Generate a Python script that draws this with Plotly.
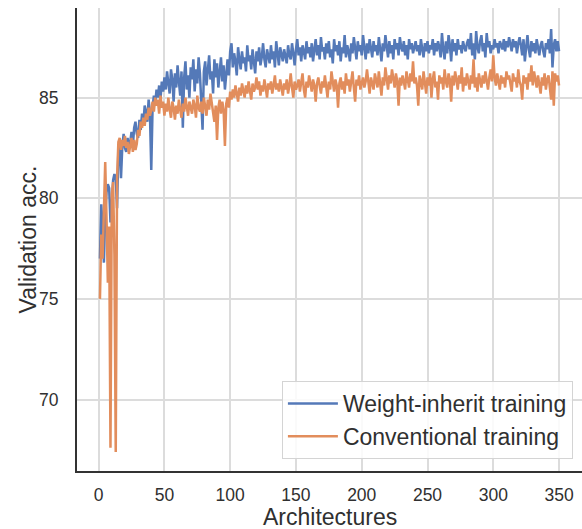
import plotly.graph_objects as go

weight_inherit = [
    77.0, 79.7, 78.5, 76.8, 79.2, 80.3, 80.7, 80.5, 78.8, 79.6,
    80.9, 81.2, 81.0, 79.5, 82.4, 82.8, 81.0, 82.6, 83.2, 82.5,
    82.3, 83.0, 82.5, 82.8, 83.3, 82.6, 83.5, 83.8, 83.2, 83.0,
    83.9, 83.4, 84.2, 83.7, 84.6, 84.3, 83.8, 84.9, 84.2, 81.4,
    84.5, 85.1, 84.7, 85.4, 85.0, 85.6, 84.9, 85.8, 85.3, 86.0,
    85.4, 86.3, 85.7, 85.2, 86.4, 85.9, 84.8, 86.2, 85.5, 86.6,
    85.8, 85.1, 86.3, 83.5, 86.0, 86.8, 85.4, 86.1, 85.0, 86.5,
    85.9, 86.9, 85.3, 86.4, 85.7, 87.0, 86.2, 85.1, 83.4, 86.3,
    86.8, 85.6, 86.5, 87.1, 85.9, 86.3, 85.2, 86.9, 86.0, 86.7,
    85.5, 86.4, 87.0, 85.8, 86.6, 85.4, 86.2, 86.9, 86.1, 87.3,
    87.7, 86.5, 87.2, 86.8, 86.1, 87.5, 86.9, 86.4, 87.3, 86.7,
    87.0, 86.3, 87.6, 86.8, 87.1, 86.4, 87.4, 86.9, 86.2, 87.3,
    86.8, 87.5, 86.6, 87.0, 87.7, 86.9, 86.5, 87.4, 87.1, 86.7,
    87.6, 86.9, 87.3, 86.5, 87.8, 87.0, 86.6, 87.5, 87.2, 86.8,
    87.4, 87.0, 86.7, 87.6, 87.1, 86.9, 87.7, 87.2, 86.6, 87.4,
    87.9, 87.1, 87.5, 86.8, 87.6, 87.3, 86.9, 87.8, 87.2, 87.5,
    87.0, 87.7, 86.8, 87.4, 87.9, 87.1, 87.6, 86.9, 88.0, 87.3,
    87.5, 86.9, 87.7, 87.2, 87.8, 87.0, 87.4, 86.7, 87.9, 87.3,
    87.6, 87.1, 87.8, 86.8, 87.5, 87.2, 88.1, 87.0, 87.6, 87.3,
    86.8, 87.7, 87.2, 88.0, 87.4, 86.9, 87.8, 87.3, 87.6, 87.1,
    88.1, 87.4, 86.9, 87.7, 87.2, 87.9, 87.5, 87.0, 87.8, 87.3,
    87.6, 87.1, 88.0, 87.4, 86.8, 87.7, 87.3, 88.1, 87.5, 87.0,
    87.8, 87.2, 87.6, 86.9, 87.9, 87.4, 87.7, 87.1, 88.0, 87.5,
    87.3, 87.8, 87.1, 87.6, 86.9, 87.9, 87.4, 87.7, 87.2, 87.5,
    87.8, 87.3, 87.6, 87.1, 87.9, 87.4, 87.0, 87.7, 87.3, 87.8,
    87.2, 87.6, 87.4, 87.9, 87.1, 87.7, 87.3, 87.8, 87.5, 87.0,
    88.2, 87.4, 86.9, 87.8, 87.2, 88.1, 87.6, 86.8, 87.9, 87.3,
    87.7, 87.1, 87.9, 87.4, 87.6, 87.2, 87.8, 87.5, 87.3, 87.7,
    87.9, 87.4, 88.2, 87.1, 87.7, 86.9, 88.3, 87.5, 87.2, 87.8,
    88.1, 87.3, 87.7, 87.0, 88.2, 87.5, 87.8, 87.2, 87.6, 87.4,
    87.9, 87.5, 87.7, 87.2, 87.8, 87.6, 87.4, 87.9, 87.3, 87.8,
    87.5, 88.0, 87.6, 87.3, 87.9, 87.5, 87.8, 87.2, 87.7, 88.0,
    87.6, 87.1, 87.9, 86.8, 87.5, 88.1, 87.4, 87.0, 87.8, 87.3,
    87.7, 87.2, 87.9, 87.4, 87.1, 87.6, 87.8, 87.3, 87.0, 87.7,
    87.4, 87.9, 87.2, 88.4, 86.5, 87.6, 87.9, 87.3, 87.8, 87.3,
]

conventional = [
    75.0, 78.2, 77.0, 79.3, 81.8, 79.0, 75.8, 78.6, 67.6, 80.2,
    80.8, 77.2, 67.4, 81.0, 82.8, 83.0, 82.4, 82.9, 82.6, 83.1,
    82.5, 82.8, 82.2, 82.6, 83.0, 82.3, 82.9, 82.4, 82.7, 83.4,
    83.1, 83.8, 83.5, 84.0, 83.6, 84.2, 83.9, 84.5, 84.1, 84.4,
    84.8, 84.3, 85.0, 84.6, 84.9, 84.2, 85.1, 84.5, 84.8, 84.1,
    84.7, 84.3, 85.0, 84.4, 84.0, 84.8, 84.5, 83.9, 84.6, 84.2,
    84.9, 84.4, 84.0, 84.7, 84.3, 85.0, 84.5, 84.1, 84.8, 84.4,
    84.2, 84.9, 84.6, 84.0, 85.1, 84.5, 84.3, 84.8, 84.2, 85.0,
    84.6, 84.1, 84.9, 84.4, 85.2, 84.7, 84.3, 83.8, 84.6, 82.9,
    84.5, 84.9, 84.2, 84.8, 84.4, 82.6, 84.7, 85.0, 84.5, 85.3,
    84.9, 85.4, 85.0, 85.6, 85.2, 84.8, 85.5, 85.1, 85.7, 85.3,
    85.0, 85.6, 85.2, 85.8, 85.4, 84.9, 85.7, 85.3, 85.5, 86.0,
    85.4, 85.8, 85.1, 85.6, 85.3, 85.9, 85.5, 85.0, 85.7, 85.4,
    85.8, 85.2, 85.6, 86.1, 85.4, 85.7, 85.3, 85.9, 85.5, 85.1,
    85.7, 85.4, 85.9, 85.2, 85.6, 86.2, 85.5, 85.0, 85.8, 85.4,
    85.6, 85.9, 85.3, 85.7, 86.2, 85.4, 85.0, 85.8, 85.5, 86.1,
    85.7, 85.3, 85.9, 85.6, 84.8, 85.7, 86.0, 85.5, 85.2, 85.8,
    85.5, 86.1, 85.6, 85.0, 85.8, 85.4, 86.3, 85.7, 85.3, 85.9,
    85.6, 84.5, 85.7, 86.0, 85.4, 85.8, 85.2, 86.2, 85.6, 85.9,
    85.3, 85.8, 86.3, 85.5, 84.8, 85.9, 85.6, 86.1, 85.4, 85.7,
    86.0, 85.5, 85.8, 86.4, 85.6, 85.2, 86.0, 85.7, 85.4, 86.2,
    85.9, 85.5, 86.3, 85.7, 85.1, 86.0, 85.6, 86.5, 85.8, 85.4,
    86.1, 85.7, 86.4, 85.9, 85.5, 86.2, 85.8, 84.6, 86.0, 85.6,
    86.1, 85.8, 85.4, 86.3, 85.9, 85.5, 86.2, 85.8, 86.8, 85.7,
    86.0, 85.6, 84.6, 86.1, 85.8, 85.4, 86.3, 85.7, 85.2, 86.0,
    85.6, 86.2, 85.0, 85.9, 86.3, 85.5, 85.8, 84.9, 86.1, 85.7,
    86.0, 85.4, 86.4, 85.8, 85.5, 86.2, 85.9, 84.8, 86.1, 85.6,
    86.3, 85.9, 85.4, 86.1, 85.7, 86.5, 85.3, 86.0, 85.6, 86.2,
    85.8, 85.4, 86.1, 85.7, 86.9, 85.5, 86.0, 85.3, 86.2, 85.8,
    85.5, 86.1, 85.7, 86.3, 85.9, 85.4, 86.0, 86.4, 85.8, 87.1,
    86.0, 85.6, 86.2, 85.8, 85.4, 86.1, 85.7, 86.0, 85.5, 86.3,
    85.9, 86.1, 85.6, 85.3, 86.2, 85.8, 86.0, 85.5, 86.4, 85.8,
    85.6, 84.9, 86.1, 85.7, 86.0, 85.4, 86.2, 85.8, 86.6, 85.6,
    86.3, 85.9, 85.5, 86.1, 85.7, 85.2, 86.0, 85.6, 86.2, 85.4,
    85.9, 86.1, 85.5, 84.9, 86.3, 84.6, 86.2, 85.8, 86.1, 85.6,
]

architectures = list(range(1, len(weight_inherit) + 1))
series_names = ["Weight-inherit training", "Conventional training"]
x_ticks = [0, 50, 100, 150, 200, 250, 300, 350]
y_ticks = [70, 75, 80, 85]
x_title = "Architectures"
y_title = "Validation acc."

FONT = "Liberation Sans, Arial, sans-serif"
TXT = "#303030"

fig = go.Figure()
fig.add_trace(go.Scatter(x=architectures, y=weight_inherit, mode="lines",
                         name=series_names[0],
                         line=dict(color="#5479b8", width=2.5)))
fig.add_trace(go.Scatter(x=architectures, y=conventional, mode="lines",
                         name=series_names[1],
                         line=dict(color="#e28d5c", width=2.5)))

fig.update_layout(
    width=582, height=529,
    margin=dict(l=77, r=0, t=8, b=58),
    paper_bgcolor="white", plot_bgcolor="white",
    font=dict(family=FONT, color=TXT, size=17),
    showlegend=True,
    legend=dict(
        x=0.982, y=0.026, xanchor="right", yanchor="bottom",
        bgcolor="rgba(255,255,255,0.85)", bordercolor="#d4d4d4", borderwidth=1,
        font=dict(family=FONT, size=23, color=TXT),
        tracegroupgap=0, itemwidth=50,
    ),
    xaxis=dict(
        range=[-16.45, 367.45], tickvals=x_ticks,
        showgrid=True, gridcolor="#dcdcdc", gridwidth=1.5,
        zeroline=False, showline=True, linecolor="#333333", linewidth=2,
        ticks="", ticklabelstandoff=7,
        tickfont=dict(size=17.5, color=TXT),
    ),
    yaxis=dict(
        range=[66.45, 89.45], tickvals=y_ticks,
        showgrid=True, gridcolor="#dcdcdc", gridwidth=1.5,
        zeroline=False, showline=True, linecolor="#333333", linewidth=2,
        ticks="", ticklabelstandoff=13,
        tickfont=dict(size=17.5, color=TXT),
    ),
    annotations=[
        dict(text=x_title, xref="paper", yref="paper", x=0.5, y=0,
             xanchor="center", yanchor="middle", yshift=-46, showarrow=False,
             font=dict(family=FONT, size=23, color=TXT)),
        dict(text=y_title, xref="paper", yref="paper", x=0, y=0.5,
             xanchor="center", yanchor="middle", xshift=-50, textangle=-90,
             showarrow=False, font=dict(family=FONT, size=23, color=TXT)),
    ],
)

fig.write_html("out.html")
